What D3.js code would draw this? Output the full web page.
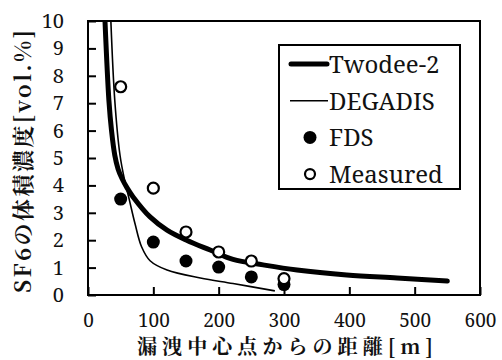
<!DOCTYPE html>
<html>
<head>
<meta charset="utf-8">
<script src="https://cdn.jsdelivr.net/npm/d3@7"></script>
<style>
  body { margin: 0; background: #fff; }
  svg { display: block; }
</style>
</head>
<body>
<div id="chart"></div>
<script>
// Twodee-2 computed curve (distance m, concentration vol.%)
const twodeeX = [26, 32, 36, 41, 46, 52, 60, 69, 95, 121, 151, 187, 222, 268, 320, 396, 473, 550];
const twodeeY = [10, 7.1, 6.0, 5.1, 4.6, 4.25, 3.9, 3.58, 2.85, 2.37, 2.0, 1.64, 1.3, 1.1, 0.91, 0.73, 0.62, 0.51];

// DEGADIS computed curve
const degadisX = [35, 41, 49, 56, 63, 72, 82, 95, 121, 172, 222, 286];
const degadisY = [10, 7.1, 5.1, 4.2, 3.5, 2.6, 1.76, 1.25, 0.91, 0.62, 0.42, 0.15];

// point data
const pointX = [50, 100, 150, 200, 250, 300];
const fdsY = [3.5, 1.93, 1.24, 1.02, 0.66, 0.38];
const measuredY = [7.6, 3.9, 2.3, 1.57, 1.24, 0.6];

const xTicks = [0, 100, 200, 300, 400, 500, 600];
const yTicks = [0, 1, 2, 3, 4, 5, 6, 7, 8, 9, 10];
const legendLabels = ['Twodee-2', 'DEGADIS', 'FDS', 'Measured'];

const xTitle = '漏洩中心点からの距離[m]';
const yTitle = 'SF6の体積濃度[vol.%]';

const width = 502, height = 360;
const plot = { left: 88, right: 480, top: 21, bottom: 295 };
const serif = '"Noto Serif", "Noto Serif CJK JP", serif';
const mincho = '"Noto Serif CJK JP", "Noto Serif", serif';

const svg = d3.select('#chart').append('svg')
  .attr('width', width)
  .attr('height', height);

const x = d3.scaleLinear().domain([0, 600]).range([plot.left, plot.right]);
const y = d3.scaleLinear().domain([0, 10]).range([plot.bottom, plot.top]);

// Axes with inward ticks
const xAxis = svg.append('g')
  .attr('transform', `translate(0,${plot.bottom})`)
  .call(d3.axisBottom(x).tickValues(xTicks).tickSizeInner(-8).tickSizeOuter(0).tickPadding(19));
const yAxis = svg.append('g')
  .attr('transform', `translate(${plot.left},0)`)
  .call(d3.axisLeft(y).tickValues(yTicks).tickSizeInner(-8).tickSizeOuter(0).tickPadding(24));

[xAxis, yAxis].forEach(a => {
  a.select('.domain').remove();
  a.selectAll('.tick line').attr('stroke', '#000').attr('stroke-width', 2);
  a.selectAll('.tick text').attr('fill', '#111').style('font-family', serif);
});
xAxis.selectAll('.tick text').style('font-size', '19px');
yAxis.selectAll('.tick text').style('font-size', '20px');

// Clip for curves
svg.append('clipPath').attr('id', 'plotClip')
  .append('rect')
  .attr('x', plot.left).attr('y', plot.top)
  .attr('width', plot.right - plot.left).attr('height', plot.bottom - plot.top);

const line = d3.line()
  .x(d => x(d[0]))
  .y(d => y(d[1]))
  .curve(d3.curveCatmullRom.alpha(0.5));

const curves = svg.append('g').attr('clip-path', 'url(#plotClip)');

curves.append('path')
  .datum(d3.zip(degadisX, degadisY))
  .attr('d', line)
  .attr('fill', 'none')
  .attr('stroke', '#000')
  .attr('stroke-width', 1.6);

curves.append('path')
  .datum(d3.zip(twodeeX, twodeeY))
  .attr('d', line)
  .attr('fill', 'none')
  .attr('stroke', '#000')
  .attr('stroke-width', 5)
  .attr('stroke-linecap', 'round');

// FDS (filled) then Measured (open) on top
svg.append('g').selectAll('circle')
  .data(d3.zip(pointX, fdsY))
  .enter().append('circle')
  .attr('cx', d => x(d[0]))
  .attr('cy', d => y(d[1]))
  .attr('r', 6.5)
  .attr('fill', '#000');

svg.append('g').selectAll('circle')
  .data(d3.zip(pointX, measuredY))
  .enter().append('circle')
  .attr('cx', d => x(d[0]))
  .attr('cy', d => y(d[1]))
  .attr('r', 5.5)
  .attr('fill', '#fff')
  .attr('stroke', '#000')
  .attr('stroke-width', 2.2);

// Frame
svg.append('rect')
  .attr('x', plot.left).attr('y', plot.top)
  .attr('width', plot.right - plot.left).attr('height', plot.bottom - plot.top)
  .attr('fill', 'none')
  .attr('stroke', '#000')
  .attr('stroke-width', 2);

// Legend
const legend = svg.append('g');
legend.append('rect')
  .attr('x', 279).attr('y', 45)
  .attr('width', 181).attr('height', 144)
  .attr('fill', '#fff')
  .attr('stroke', '#000')
  .attr('stroke-width', 2);

const rowY = i => 64 + i * 36.7;
legend.append('line')
  .attr('x1', 291).attr('x2', 327).attr('y1', rowY(0)).attr('y2', rowY(0))
  .attr('stroke', '#000').attr('stroke-width', 5).attr('stroke-linecap', 'round');
legend.append('line')
  .attr('x1', 290).attr('x2', 328).attr('y1', rowY(1)).attr('y2', rowY(1))
  .attr('stroke', '#000').attr('stroke-width', 1.6);
legend.append('circle')
  .attr('cx', 310).attr('cy', rowY(2)).attr('r', 6.5).attr('fill', '#000');
legend.append('circle')
  .attr('cx', 310).attr('cy', rowY(3)).attr('r', 5).attr('fill', '#fff')
  .attr('stroke', '#000').attr('stroke-width', 2.2);

legend.selectAll('text')
  .data(legendLabels)
  .enter().append('text')
  .attr('x', 329)
  .attr('y', (d, i) => rowY(i) + 9)
  .attr('fill', '#111')
  .style('font-family', serif)
  .style('font-size', '24px')
  .text(d => d);

// Axis titles
svg.append('text')
  .attr('x', 137)
  .attr('y', 354)
  .attr('textLength', 296)
  .attr('lengthAdjust', 'spacing')
  .attr('fill', '#111')
  .style('font-family', mincho)
  .style('font-size', '20px')
  .style('font-weight', 'bold')
  .text(xTitle);

svg.append('text')
  .attr('transform', 'translate(31,293) rotate(-90)')
  .attr('x', 0)
  .attr('y', 0)
  .attr('textLength', 263)
  .attr('lengthAdjust', 'spacing')
  .attr('fill', '#111')
  .style('font-family', mincho)
  .style('font-size', '22px')
  .style('font-weight', 'bold')
  .text(yTitle);
</script>
</body>
</html>
